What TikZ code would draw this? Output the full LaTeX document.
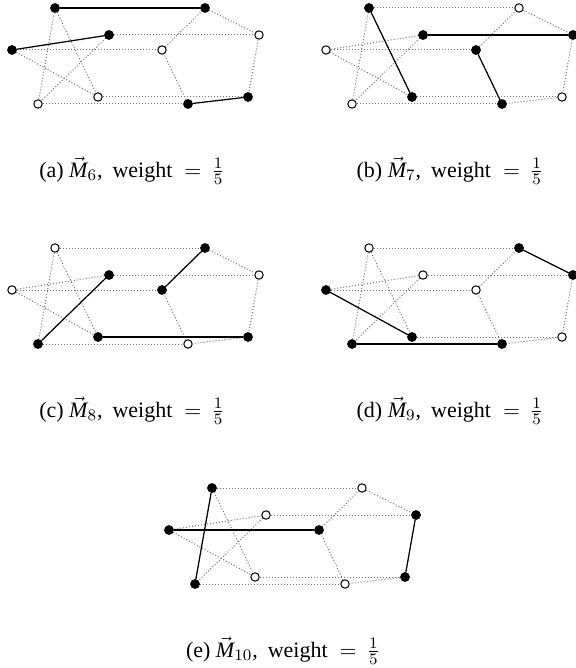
\documentclass[tikz,border=0pt]{standalone}
\usepackage{fontspec}
\setmainfont{Liberation Serif}
\tikzset{
  vtx/.style={circle,draw=black,line width=0.5pt,inner sep=0pt,minimum size=4.2pt},
  vo/.style={vtx,fill=white},
  vf/.style={vtx,fill=black},
  dotedge/.style={draw=black!55,line width=0.5pt,dash pattern=on 0.5pt off 1pt},
  medge/.style={draw=black,line width=0.6pt},
  caption/.style={anchor=base,inner sep=0pt,font=\fontsize{11}{13}\selectfont},
}
\newcommand{\petpanel}[3]{%
  \begin{scope}[shift={#2}]
    \foreach \v/\x/\y in {A/43/-42,B/193/-42,C/97/-15,D/247/-15,E/0/0,F/150/0,G/26/54,H/86/47,I/176/54,J/236/47}
      {\node[vo] (#1\v) at (\x,\y) {};}
    \foreach \u/\w in {A/B,C/D,E/F,G/I,H/J,A/G,A/H,C/E,C/G,E/H,B/D,D/J,J/I,I/F,F/B}
      {\draw[dotedge] (#1\u) -- (#1\w);}
    \foreach \u/\w in {#3}
      {\draw[medge] (#1\u) -- (#1\w);
       \node[vf] (#1\u-m) at (#1\u) {};
       \node[vf] (#1\w-m) at (#1\w) {};}
  \end{scope}}
\newcommand{\capt}[2]{(#1) $\vec{\mathit{M}}_{#2}$,\hspace{5pt}weight\hspace{6pt}$=$\hspace{5pt}$\frac{1}{5}$}
\begin{document}
\begin{tikzpicture}[x=0.5pt,y=-0.5pt]
  \useasboundingbox (0,0) rectangle (576,668);
  \petpanel{a}{(12,50)}{A/B,C/E,I/J}
  \petpanel{b}{(326,50)}{A/H,C/D,F/I}
  \petpanel{c}{(12,290)}{C/G,B/F,H/J}
  \petpanel{d}{(326,290)}{B/D,E/H,G/I}
  \petpanel{e}{(169,530)}{A/G,E/F,D/J}
  \node[caption] (capa) at (132,177) {\capt{a}{6}};
  \node[caption] (capb) at (450,177) {\capt{b}{7}};
  \node[caption] (capc) at (132,417) {\capt{c}{8}};
  \node[caption] (capd) at (450,417) {\capt{d}{9}};
  \node[caption] (cape) at (283,657) {\capt{e}{10}};
\end{tikzpicture}
\end{document}
